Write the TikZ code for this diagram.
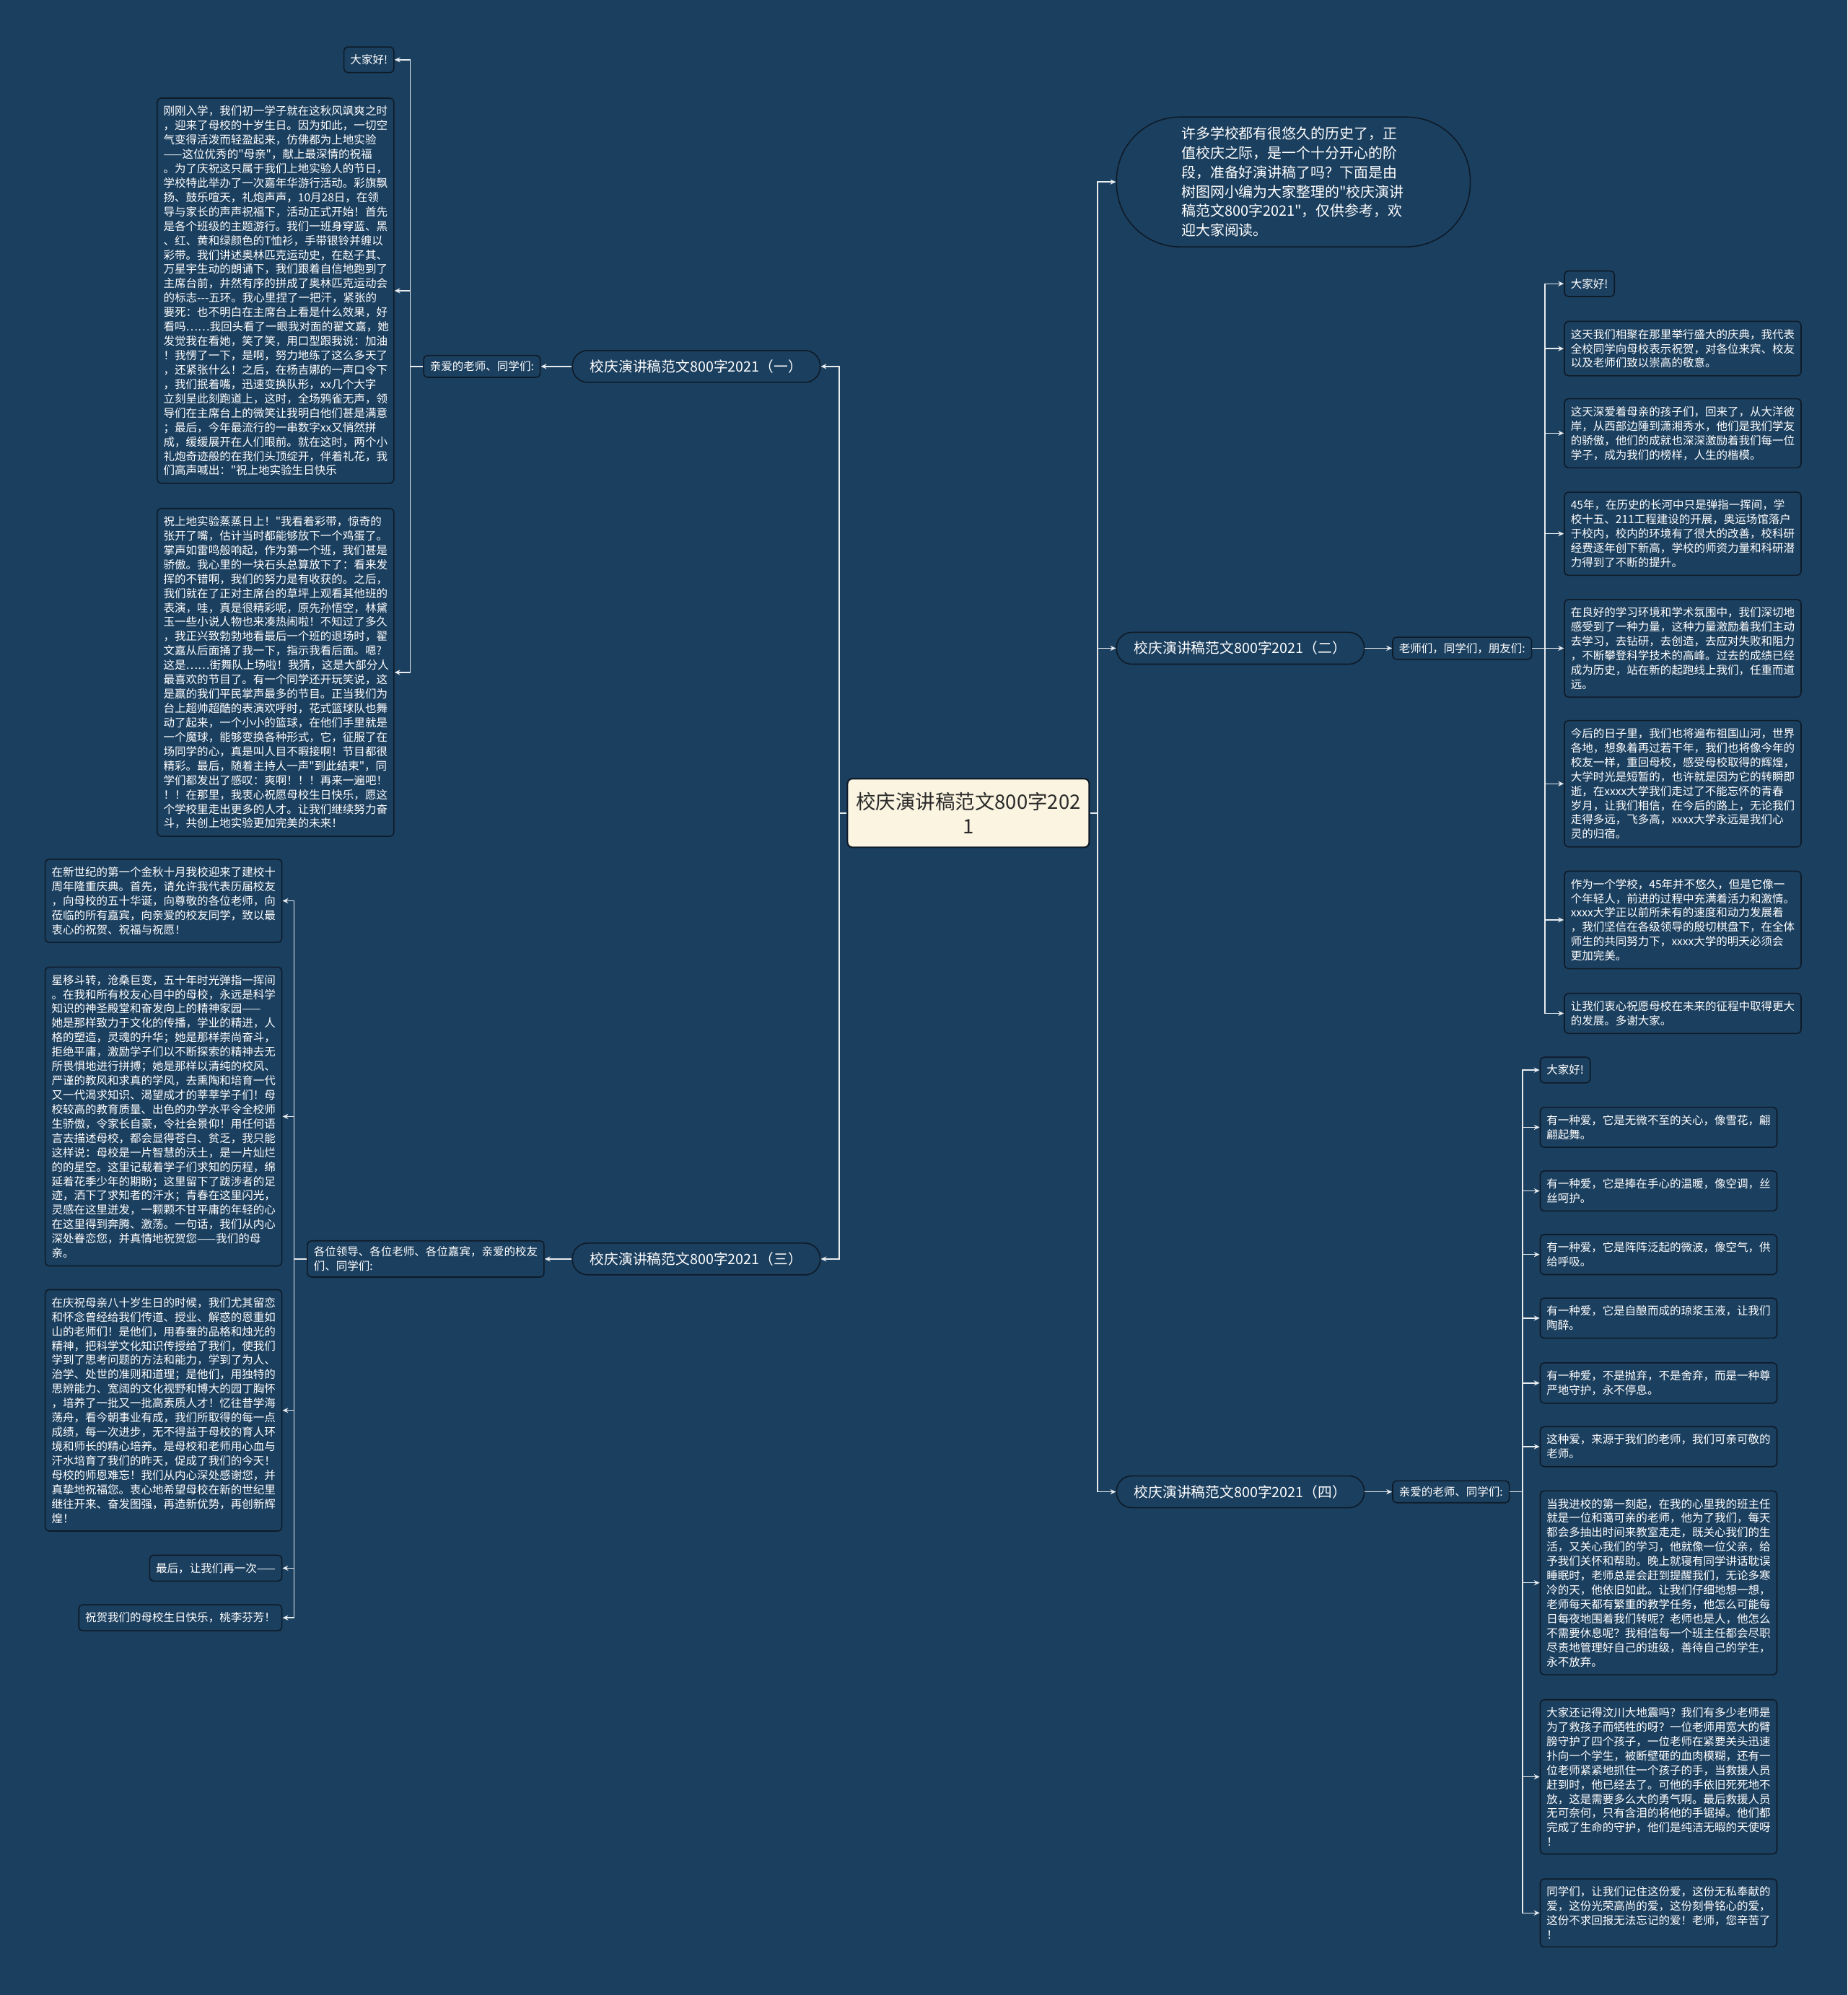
\documentclass[tikz,border=0pt]{standalone}
\usepackage{fontspec}
\newfontfamily\cjk{Noto Sans CJK SC}
\usetikzlibrary{arrows.meta}
\definecolor{bgc}{HTML}{1B3F5F}
\definecolor{edgec}{HTML}{0E1B28}
\definecolor{linec}{HTML}{E8ECEF}
\definecolor{rootfill}{HTML}{FAF4E0}
\definecolor{roottext}{HTML}{2A2A2A}
\tikzset{
  txt/.style={font=\cjk\fontsize{8.8}{11.3}\selectfont, text=white},
  leaf/.style={txt, draw=edgec, line width=0.9pt, rounded corners=3pt, fill=bgc, align=left, inner xsep=5pt, inner ysep=6pt},
  wide/.style={leaf, text width=176pt},
  sublabel/.style={leaf, inner ysep=4.5pt},
  branch/.style={draw=edgec, line width=0.9pt, rounded corners=12pt, minimum height=25pt, inner xsep=14pt, font=\cjk\fontsize{11.2}{13}\selectfont, text=white, fill=bgc},
  root/.style={draw=edgec, line width=1.2pt, rounded corners=4pt, fill=rootfill, text=roottext, minimum width=190pt, minimum height=54pt, inner xsep=2pt, align=center, font=\cjk\fontsize{15.6}{19}\selectfont},
  intro/.style={draw=edgec, line width=0.9pt, rounded corners=50pt, fill=bgc, text=white, minimum width=278pt, minimum height=102pt, text width=176pt, inner xsep=51pt, align=left, font=\cjk\fontsize{11.3}{15.2}\selectfont},
  conn/.style={draw=linec, line width=0.8pt, -{Stealth[length=4.5pt,width=4pt]}},
}
\begin{document}
\begin{tikzpicture}[x=1pt,y=-1pt]
\fill[bgc] (0,0) rectangle (1452,1568);
\useasboundingbox (0,0) rectangle (1452,1568);

% root
\node[root] (root) at (761,639) {校庆演讲稿范文800字202\\1};

% ---------- branch 1 ----------
\node[branch, anchor=east] (b1) at (645,288) {校庆演讲稿范文800字2021（一）};
\node[sublabel, anchor=east] (s1) at (425,288) {亲爱的老师、同学们:};
\node[leaf, anchor=east] (b1h) at (310,47) {大家好!};
\node[wide, anchor=east] (b1a) at (310,228.5) {刚刚入学，我们初一学子就在这秋风飒爽之时\\，迎来了母校的十岁生日。因为如此，一切空\\气变得活泼而轻盈起来，仿佛都为上地实验\\——这位优秀的"母亲"，献上最深情的祝福\\。为了庆祝这只属于我们上地实验人的节日，\\学校特此举办了一次嘉年华游行活动。彩旗飘\\扬、鼓乐喧天，礼炮声声，10月28日，在领\\导与家长的声声祝福下，活动正式开始！首先\\是各个班级的主题游行。我们一班身穿蓝、黑\\、红、黄和绿颜色的T恤衫，手带银铃并缠以\\彩带。我们讲述奥林匹克运动史，在赵子其、\\万星宇生动的朗诵下，我们跟着自信地跑到了\\主席台前，井然有序的拼成了奥林匹克运动会\\的标志---五环。我心里捏了一把汗，紧张的\\要死：也不明白在主席台上看是什么效果，好\\看吗……我回头看了一眼我对面的翟文嘉，她\\发觉我在看她，笑了笑，用口型跟我说：加油\\！我愣了一下，是啊，努力地练了这么多天了\\，还紧张什么！之后，在杨吉娜的一声口令下\\，我们抿着嘴，迅速变换队形，xx几个大字\\立刻呈此刻跑道上，这时，全场鸦雀无声，领\\导们在主席台上的微笑让我明白他们甚是满意\\；最后，今年最流行的一串数字xx又悄然拼\\成，缓缓展开在人们眼前。就在这时，两个小\\礼炮奇迹般的在我们头顶绽开，伴着礼花，我\\们高声喊出："祝上地实验生日快乐};
\node[wide, anchor=east] (b1b) at (310,528.5) {祝上地实验蒸蒸日上！"我看着彩带，惊奇的\\张开了嘴，估计当时都能够放下一个鸡蛋了。\\掌声如雷鸣般响起，作为第一个班，我们甚是\\骄傲。我心里的一块石头总算放下了：看来发\\挥的不错啊，我们的努力是有收获的。之后，\\我们就在了正对主席台的草坪上观看其他班的\\表演，哇，真是很精彩呢，原先孙悟空，林黛\\玉一些小说人物也来凑热闹啦！不知过了多久\\，我正兴致勃勃地看最后一个班的退场时，翟\\文嘉从后面捅了我一下，指示我看后面。嗯?\\这是……街舞队上场啦！我猜，这是大部分人\\最喜欢的节目了。有一个同学还开玩笑说，这\\是赢的我们平民掌声最多的节目。正当我们为\\台上超帅超酷的表演欢呼时，花式篮球队也舞\\动了起来，一个小小的篮球，在他们手里就是\\一个魔球，能够变换各种形式，它，征服了在\\场同学的心，真是叫人目不暇接啊！节目都很\\精彩。最后，随着主持人一声"到此结束"，同\\学们都发出了感叹：爽啊！！！再来一遍吧！\\！！在那里，我衷心祝愿母校生日快乐，愿这\\个学校里走出更多的人才。让我们继续努力奋\\斗，共创上地实验更加完美的未来！};

% ---------- branch 3 ----------
\node[branch, anchor=east] (b3) at (645,989.5) {校庆演讲稿范文800字2021（三）};
\node[sublabel, anchor=east] (s3) at (428,989.5) {各位领导、各位老师、各位嘉宾，亲爱的校友\\们、同学们:};
\node[wide, anchor=east] (b3a) at (222,708) {在新世纪的第一个金秋十月我校迎来了建校十\\周年隆重庆典。首先，请允许我代表历届校友\\，向母校的五十华诞，向尊敬的各位老师，向\\莅临的所有嘉宾，向亲爱的校友同学，致以最\\衷心的祝贺、祝福与祝愿！};
\node[wide, anchor=east] (b3b) at (222,877.5) {星移斗转，沧桑巨变，五十年时光弹指一挥间\\。在我和所有校友心目中的母校，永远是科学\\知识的神圣殿堂和奋发向上的精神家园——\\她是那样致力于文化的传播，学业的精进，人\\格的塑造，灵魂的升华；她是那样崇尚奋斗，\\拒绝平庸，激励学子们以不断探索的精神去无\\所畏惧地进行拼搏；她是那样以清纯的校风、\\严谨的教风和求真的学风，去熏陶和培育一代\\又一代渴求知识、渴望成才的莘莘学子们！母\\校较高的教育质量、出色的办学水平令全校师\\生骄傲，令家长自豪，令社会景仰！用任何语\\言去描述母校，都会显得苍白、贫乏，我只能\\这样说：母校是一片智慧的沃土，是一片灿烂\\的的星空。这里记载着学子们求知的历程，绵\\延着花季少年的期盼；这里留下了跋涉者的足\\迹，洒下了求知者的汗水；青春在这里闪光，\\灵感在这里迸发，一颗颗不甘平庸的年轻的心\\在这里得到奔腾、激荡。一句话，我们从内心\\深处眷恋您，并真情地祝贺您——我们的母\\亲。};
\node[wide, anchor=east] (b3c) at (222,1108.5) {在庆祝母亲八十岁生日的时候，我们尤其留恋\\和怀念曾经给我们传道、授业、解惑的恩重如\\山的老师们！是他们，用春蚕的品格和烛光的\\精神，把科学文化知识传授给了我们，使我们\\学到了思考问题的方法和能力，学到了为人、\\治学、处世的准则和道理；是他们，用独特的\\思辨能力、宽阔的文化视野和博大的园丁胸怀\\，培养了一批又一批高素质人才！忆往昔学海\\荡舟，看今朝事业有成，我们所取得的每一点\\成绩，每一次进步，无不得益于母校的育人环\\境和师长的精心培养。是母校和老师用心血与\\汗水培育了我们的昨天，促成了我们的今天！\\母校的师恩难忘！我们从内心深处感谢您，并\\真挚地祝福您。衷心地希望母校在新的世纪里\\继往开来、奋发图强，再造新优势，再创新辉\\煌！};
\node[leaf, anchor=east] (b3d) at (222,1232.5) {最后，让我们再一次——};
\node[leaf, anchor=east] (b3e) at (222,1271.5) {祝贺我们的母校生日快乐，桃李芬芳！};

% ---------- intro ----------
\node[intro, anchor=west] (intro) at (877,143) {许多学校都有很悠久的历史了，正\\值校庆之际，是一个十分开心的阶\\段，准备好演讲稿了吗？下面是由\\树图网小编为大家整理的"校庆演讲\\稿范文800字2021"，仅供参考，欢\\迎大家阅读。};

% ---------- branch 2 ----------
\node[branch, anchor=west] (b2) at (877,509.5) {校庆演讲稿范文800字2021（二）};
\node[sublabel, anchor=west] (s2) at (1094,509.5) {老师们，同学们，朋友们:};
\node[leaf, anchor=west] (b2h) at (1229,223) {大家好!};
\node[wide, anchor=west] (b2a) at (1229,274) {这天我们相聚在那里举行盛大的庆典，我代表\\全校同学向母校表示祝贺，对各位来宾、校友\\以及老师们致以崇高的敬意。};
\node[wide, anchor=west] (b2b) at (1229,340.5) {这天深爱着母亲的孩子们，回来了，从大洋彼\\岸，从西部边陲到潇湘秀水，他们是我们学友\\的骄傲，他们的成就也深深激励着我们每一位\\学子，成为我们的榜样，人生的楷模。};
\node[wide, anchor=west] (b2c) at (1229,419.5) {45年，在历史的长河中只是弹指一挥间，学\\校十五、211工程建设的开展，奥运场馆落户\\于校内，校内的环境有了很大的改善，校科研\\经费逐年创下新高，学校的师资力量和科研潜\\力得到了不断的提升。};
\node[wide, anchor=west] (b2d) at (1229,509.5) {在良好的学习环境和学术氛围中，我们深切地\\感受到了一种力量，这种力量激励着我们主动\\去学习，去钻研，去创造，去应对失败和阻力\\，不断攀登科学技术的高峰。过去的成绩已经\\成为历史，站在新的起跑线上我们，任重而道\\远。};
\node[wide, anchor=west] (b2e) at (1229,616) {今后的日子里，我们也将遍布祖国山河，世界\\各地，想象着再过若干年，我们也将像今年的\\校友一样，重回母校，感受母校取得的辉煌，\\大学时光是短暂的，也许就是因为它的转瞬即\\逝，在xxxx大学我们走过了不能忘怀的青春\\岁月，让我们相信，在今后的路上，无论我们\\走得多远，飞多高，xxxx大学永远是我们心\\灵的归宿。};
\node[wide, anchor=west] (b2f) at (1229,723) {作为一个学校，45年并不悠久，但是它像一\\个年轻人，前进的过程中充满着活力和激情。\\xxxx大学正以前所未有的速度和动力发展着\\，我们坚信在各级领导的殷切棋盘下，在全体\\师生的共同努力下，xxxx大学的明天必须会\\更加完美。};
\node[wide, anchor=west] (b2g) at (1229,796.5) {让我们衷心祝愿母校在未来的征程中取得更大\\的发展。多谢大家。};

% ---------- branch 4 ----------
\node[branch, anchor=west] (b4) at (877,1172.5) {校庆演讲稿范文800字2021（四）};
\node[sublabel, anchor=west] (s4) at (1094,1172.5) {亲爱的老师、同学们:};
\node[leaf, anchor=west] (b4h) at (1210,841) {大家好!};
\node[wide, anchor=west] (b4a) at (1210,886) {有一种爱，它是无微不至的关心，像雪花，翩\\翩起舞。};
\node[wide, anchor=west] (b4b) at (1210,936) {有一种爱，它是捧在手心的温暖，像空调，丝\\丝呵护。};
\node[wide, anchor=west] (b4c) at (1210,986) {有一种爱，它是阵阵泛起的微波，像空气，供\\给呼吸。};
\node[wide, anchor=west] (b4d) at (1210,1036) {有一种爱，它是自酿而成的琼浆玉液，让我们\\陶醉。};
\node[wide, anchor=west] (b4e) at (1210,1087) {有一种爱，不是抛弃，不是舍弃，而是一种尊\\严地守护，永不停息。};
\node[wide, anchor=west] (b4f) at (1210,1137) {这种爱，来源于我们的老师，我们可亲可敬的\\老师。};
\node[wide, anchor=west] (b4g) at (1210,1244) {当我进校的第一刻起，在我的心里我的班主任\\就是一位和蔼可亲的老师，他为了我们，每天\\都会多抽出时间来教室走走，既关心我们的生\\活，又关心我们的学习，他就像一位父亲，给\\予我们关怀和帮助。晚上就寝有同学讲话耽误\\睡眠时，老师总是会赶到提醒我们，无论多寒\\冷的天，他依旧如此。让我们仔细地想一想，\\老师每天都有繁重的教学任务，他怎么可能每\\日每夜地围着我们转呢？老师也是人，他怎么\\不需要休息呢？我相信每一个班主任都会尽职\\尽责地管理好自己的班级，善待自己的学生，\\永不放弃。};
\node[wide, anchor=west] (b4i) at (1210,1396.5) {大家还记得汶川大地震吗？我们有多少老师是\\为了救孩子而牺牲的呀？一位老师用宽大的臂\\膀守护了四个孩子，一位老师在紧要关头迅速\\扑向一个学生，被断壁砸的血肉模糊，还有一\\位老师紧紧地抓住一个孩子的手，当救援人员\\赶到时，他已经去了。可他的手依旧死死地不\\放，这是需要多么大的勇气啊。最后救援人员\\无可奈何，只有含泪的将他的手锯掉。他们都\\完成了生命的守护，他们是纯洁无暇的天使呀\\！};
\node[wide, anchor=west] (b4j) at (1210,1503.5) {同学们，让我们记住这份爱，这份无私奉献的\\爱，这份光荣高尚的爱，这份刻骨铭心的爱，\\这份不求回报无法忘记的爱！老师，您辛苦了\\！};

% ---------- connectors ----------
\draw[conn] (root.west) -- ++(-6,0) |- (b1.east);
\draw[conn] (root.west) -- ++(-6,0) |- (b3.east);
\draw[conn] (root.east) -- ++(6,0) |- (intro.west);
\draw[conn] (root.east) -- ++(6,0) |- (b2.west);
\draw[conn] (root.east) -- ++(6,0) |- (b4.west);

\draw[conn] (b1.west) -- (s1.east);
\foreach \t in {b1h,b1a,b1b}{\draw[conn] (s1.west) -- ++(-10,0) |- (\t.east);}
\draw[conn] (b3.west) -- (s3.east);
\foreach \t in {b3a,b3b,b3c,b3d,b3e}{\draw[conn] (s3.west) -- ++(-10,0) |- (\t.east);}
\draw[conn] (b2.east) -- (s2.west);
\foreach \t in {b2h,b2a,b2b,b2c,b2d,b2e,b2f,b2g}{\draw[conn] (s2.east) -- ++(10,0) |- (\t.west);}
\draw[conn] (b4.east) -- (s4.west);
\foreach \t in {b4h,b4a,b4b,b4c,b4d,b4e,b4f,b4g,b4i,b4j}{\draw[conn] (s4.east) -- ++(10,0) |- (\t.west);}
\end{tikzpicture}
\end{document}
